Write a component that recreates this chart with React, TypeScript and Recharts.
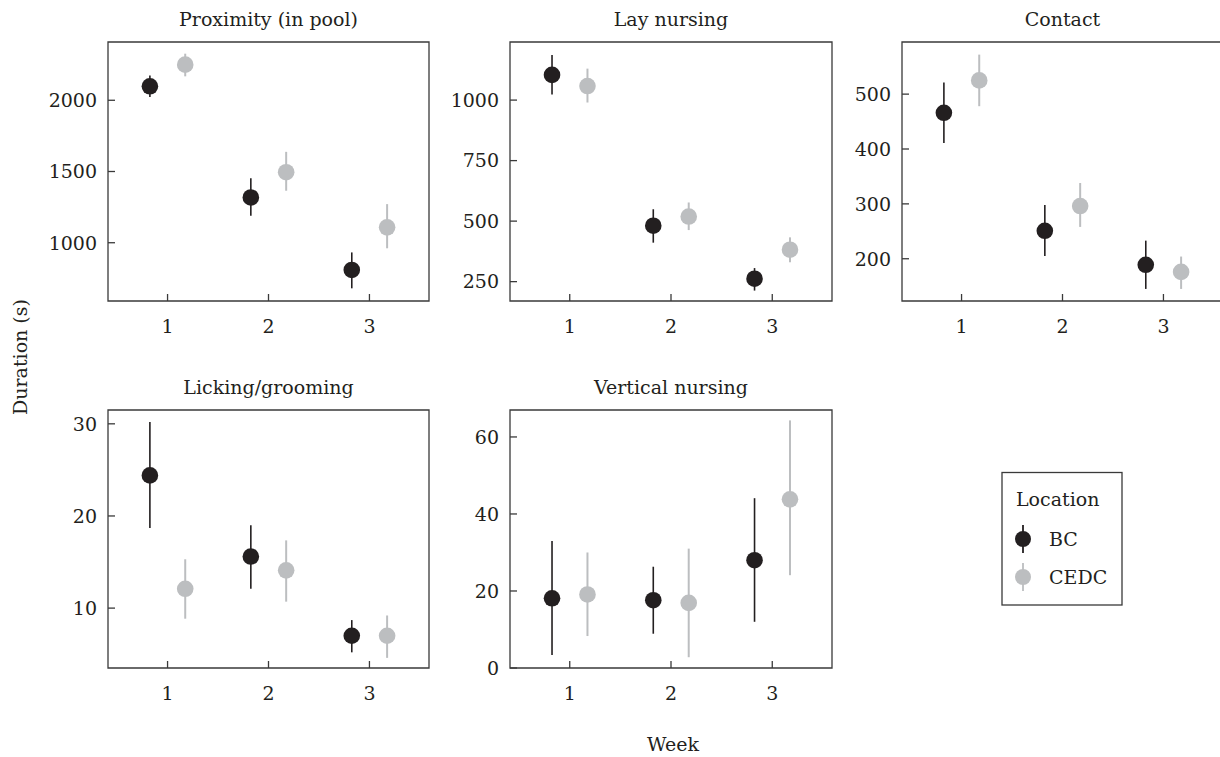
import { ScatterChart, Scatter, XAxis, YAxis, ErrorBar, ReferenceArea } from 'recharts';

const FONT = '"DejaVu Serif", "Liberation Serif", serif';
const INK = '#231f20';
const GREY = '#bcbec0';
const FRAME = '#3a3a3a';

const weeks = [1, 2, 3];
const locations = ['BC', 'CEDC'];

// Proximity (in pool)
const proxBcMean = [2098, 1318, 809];
const proxBcLo = [2023, 1189, 680];
const proxBcHi = [2173, 1453, 932];
const proxCedcMean = [2250, 1495, 1108];
const proxCedcLo = [2168, 1365, 961];
const proxCedcHi = [2327, 1638, 1271];

// Lay nursing
const layBcMean = [1104, 481, 262];
const layBcLo = [1023, 411, 213];
const layBcHi = [1186, 549, 306];
const layCedcMean = [1058, 519, 382];
const layCedcLo = [990, 463, 330];
const layCedcHi = [1130, 577, 433];

// Contact
const contactBcMean = [466, 251, 189];
const contactBcLo = [411, 205, 145];
const contactBcHi = [521, 298, 233];
const contactCedcMean = [525, 296, 176];
const contactCedcLo = [478, 258, 145];
const contactCedcHi = [572, 338, 204];

// Licking/grooming
const lickBcMean = [24.4, 15.6, 7.0];
const lickBcLo = [18.7, 12.1, 5.2];
const lickBcHi = [30.2, 19.0, 8.7];
const lickCedcMean = [12.1, 14.1, 7.0];
const lickCedcLo = [8.85, 10.7, 4.6];
const lickCedcHi = [15.3, 17.35, 9.2];

// Vertical nursing
const vertBcMean = [18.1, 17.6, 28.0];
const vertBcLo = [3.4, 8.9, 12.0];
const vertBcHi = [33.0, 26.3, 44.1];
const vertCedcMean = [19.1, 16.9, 43.8];
const vertCedcLo = [8.3, 2.8, 24.1];
const vertCedcHi = [30.0, 31.0, 64.3];

const proxTicks = [1000, 1500, 2000];
const layTicks = [250, 500, 750, 1000];
const contactTicks = [200, 300, 400, 500];
const lickTicks = [10, 20, 30];
const vertTicks = [0, 20, 40, 60];

const X_DOMAIN: [number, number] = [0.41, 3.59];
const DODGE = 0.175;

function build(mean: number[], lo: number[], hi: number[], shift: number) {
  return weeks.map((w, i) => ({
    week: w + shift,
    value: mean[i],
    err: [mean[i] - lo[i], hi[i] - mean[i]],
  }));
}

const panels = [
  {
    title: 'Proximity (in pool)',
    bc: build(proxBcMean, proxBcLo, proxBcHi, -DODGE),
    cedc: build(proxCedcMean, proxCedcLo, proxCedcHi, DODGE),
    domain: [591, 2409], ticks: proxTicks,
    left: 108, top: 42, w: 321, h: 259,
  },
  {
    title: 'Lay nursing',
    bc: build(layBcMean, layBcLo, layBcHi, -DODGE),
    cedc: build(layCedcMean, layCedcLo, layCedcHi, DODGE),
    domain: [170, 1240], ticks: layTicks,
    left: 510, top: 42, w: 322, h: 259,
  },
  {
    title: 'Contact',
    bc: build(contactBcMean, contactBcLo, contactBcHi, -DODGE),
    cedc: build(contactCedcMean, contactCedcLo, contactCedcHi, DODGE),
    domain: [123, 595], ticks: contactTicks,
    left: 902, top: 42, w: 321, h: 259,
  },
  {
    title: 'Licking/grooming',
    bc: build(lickBcMean, lickBcLo, lickBcHi, -DODGE),
    cedc: build(lickCedcMean, lickCedcLo, lickCedcHi, DODGE),
    domain: [3.5, 31.5], ticks: lickTicks,
    left: 108, top: 410, w: 321, h: 258,
  },
  {
    title: 'Vertical nursing',
    bc: build(vertBcMean, vertBcLo, vertBcHi, -DODGE),
    cedc: build(vertCedcMean, vertCedcLo, vertCedcHi, DODGE),
    domain: [0, 67], ticks: vertTicks,
    left: 510, top: 410, w: 322, h: 258,
  },
];

const YW = 70;
const MT = 10;
const MR = 10;
const XH = 40;

const XTick = (props: any) => {
  const { x, y, payload } = props;
  return (
    <g>
      <line x1={x} x2={x} y1={y} y2={y - 7} stroke={FRAME} strokeWidth={1.3} />
      <text x={x} y={y + 32} textAnchor="middle" fontFamily={FONT} fontSize={19} fill={INK}>
        {payload.value}
      </text>
    </g>
  );
};

const YTick = (props: any) => {
  const { x, y, payload } = props;
  return (
    <g>
      <line x1={x} x2={x + 7} y1={y} y2={y} stroke={FRAME} strokeWidth={1.3} />
      <text x={x - 11} y={y} dy="0.36em" textAnchor="end" fontFamily={FONT} fontSize={19} fill={INK}>
        {payload.value}
      </text>
    </g>
  );
};

const dot = (color: string) => (p: any) => <circle cx={p.cx} cy={p.cy} r={8.3} fill={color} />;

function Panel({ p }: { p: (typeof panels)[number] }) {
  return (
    <div style={{ position: 'absolute', left: p.left - YW, top: p.top - MT }}>
      <ScatterChart width={YW + p.w + MR} height={MT + p.h + XH} margin={{ top: MT, right: MR, bottom: 0, left: 0 }}>
        <XAxis
          type="number"
          dataKey="week"
          domain={X_DOMAIN}
          ticks={weeks}
          allowDataOverflow
          height={XH}
          axisLine={false}
          tickLine={false}
          tickSize={0}
          tickMargin={0}
          tick={<XTick />}
        />
        <YAxis
          type="number"
          dataKey="value"
          domain={p.domain}
          ticks={p.ticks}
          allowDataOverflow
          width={YW}
          axisLine={false}
          tickLine={false}
          tickSize={0}
          tickMargin={0}
          tick={<YTick />}
        />
        <ReferenceArea x1={X_DOMAIN[0]} x2={X_DOMAIN[1]} fill="none" stroke={FRAME} strokeWidth={1.3} />
        <Scatter data={p.bc} shape={dot(INK)} isAnimationActive={false}>
          <ErrorBar dataKey="err" direction="y" width={0} stroke={INK} strokeWidth={1.6} isAnimationActive={false} />
        </Scatter>
        <Scatter data={p.cedc} shape={dot(GREY)} isAnimationActive={false}>
          <ErrorBar dataKey="err" direction="y" width={0} stroke={GREY} strokeWidth={2} isAnimationActive={false} />
        </Scatter>
      </ScatterChart>
    </div>
  );
}

const legendColors = [INK, GREY];

export default function App() {
  return (
    <div style={{ position: 'absolute', left: 0, top: 0, width: 1220, height: 757, overflow: 'hidden', background: '#fff' }}>
      {panels.map((p) => (
        <Panel key={p.title} p={p} />
      ))}
      <svg width={1220} height={757} style={{ position: 'absolute', left: 0, top: 0, pointerEvents: 'none' }}>
        <g fontFamily={FONT} fontSize={19} fill={INK}>
          {panels.map((p) => (
            <text key={p.title} x={p.left + p.w / 2} y={p.top - 16} textAnchor="middle">
              {p.title}
            </text>
          ))}
          <text x={27} y={357} textAnchor="middle" transform="rotate(-90 27 357)">Duration (s)</text>
          <text x={673} y={751} textAnchor="middle">Week</text>
          <rect x={1002} y={472.5} width={120} height={132.5} fill="none" stroke={FRAME} strokeWidth={1.3} />
          <text x={1016} y={506}>Location</text>
          {locations.map((name, i) => (
            <g key={name}>
              <line x1={1023} x2={1023} y1={539 + i * 38 - 14} y2={539 + i * 38 + 14} stroke={legendColors[i]} strokeWidth={1.8} />
              <circle cx={1023} cy={539 + i * 38} r={8} fill={legendColors[i]} />
              <text x={1049} y={539 + i * 38 + 7}>{name}</text>
            </g>
          ))}
        </g>
      </svg>
    </div>
  );
}
